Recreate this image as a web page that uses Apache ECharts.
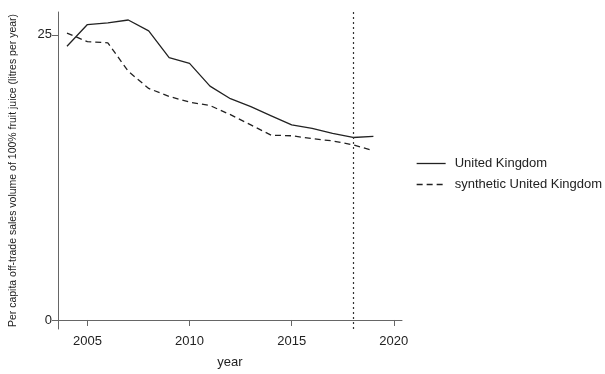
<!DOCTYPE html>
<html>
<head>
<meta charset="utf-8">
<script src="https://cdn.jsdelivr.net/npm/echarts@6/dist/echarts.min.js"></script>
<style>
  html, body { margin: 0; padding: 0; background: #fff; }
  #chart { width: 605px; height: 374px; }
</style>
</head>
<body>
<div id="chart"></div>
<script>
// Per capita off-trade sales volume of 100% fruit juice, UK vs synthetic control
const years = [2004, 2005, 2006, 2007, 2008, 2009, 2010, 2011, 2012, 2013, 2014, 2015, 2016, 2017, 2018, 2019];
const ukValues = [24.0, 25.9, 26.05, 26.3, 25.35, 23.0, 22.5, 20.5, 19.4, 18.7, 17.9, 17.1, 16.8, 16.35, 16.0, 16.1];
const syntheticValues = [25.15, 24.4, 24.3, 21.8, 20.3, 19.6, 19.1, 18.8, 18.0, 17.1, 16.2, 16.15, 15.9, 15.7, 15.35, 14.85];
const xTicks = [2005, 2010, 2015, 2020];
const yTicks = [0, 25];
const treatmentYear = 2018;
const seriesNames = ['United Kingdom', 'synthetic United Kingdom'];

const FONT = '"Liberation Sans", Arial, Helvetica, sans-serif';
const chart = echarts.init(document.getElementById('chart'), null, { renderer: 'canvas' });

const pairs = arr => years.map((y, i) => [y, arr[i]]);

chart.setOption({
  animation: false,
  backgroundColor: '#ffffff',
  grid: { left: 51, right: 203, top: 12, bottom: 45, containLabel: false },
  legend: {
    show: true,
    orient: 'vertical',
    left: 411,
    top: 152,
    itemWidth: 29,
    itemHeight: 14,
    itemGap: 8,
    itemStyle: { opacity: 0 },
    lineStyle: { width: 1.3 },
    textStyle: { fontFamily: FONT, fontSize: 13, color: '#222', padding: [0, 0, 0, 4] },
    data: seriesNames
  },
  xAxis: {
    type: 'value',
    min: 2003.56,
    max: 2020.4,
    name: 'year',
    nameLocation: 'middle',
    nameGap: 27,
    nameTextStyle: { fontFamily: FONT, fontSize: 13, color: '#222' },
    splitLine: { show: false },
    axisLine: { show: true, lineStyle: { color: '#666', width: 1 } },
    axisTick: { show: true, length: 6, lineStyle: { color: '#666' }, customValues: xTicks },
    axisLabel: {
      fontFamily: FONT, fontSize: 13, color: '#222', margin: 6,
      customValues: xTicks,
      formatter: v => String(v)
    }
  },
  yAxis: {
    type: 'value',
    min: -0.79,
    max: 27.0,
    name: 'Per capita off-trade sales volume of 100% fruit juice (litres per year)',
    nameLocation: 'middle',
    nameGap: 39,
    nameTextStyle: { fontFamily: FONT, fontSize: 10.5, color: '#222' },
    splitLine: { show: false },
    axisLine: { show: true, lineStyle: { color: '#666', width: 1 } },
    axisTick: { show: true, length: 6, lineStyle: { color: '#666' }, customValues: yTicks },
    axisLabel: {
      fontFamily: FONT, fontSize: 13, color: '#222', margin: 6,
      customValues: yTicks,
      formatter: v => String(v)
    }
  },
  series: [
    {
      name: seriesNames[0],
      type: 'line',
      data: pairs(ukValues),
      showSymbol: false,
      symbol: 'none',
      color: '#222',
      lineStyle: { color: '#222', width: 1.3, type: 'solid' },
      itemStyle: { color: '#222' },
      markLine: {
        silent: true,
        symbol: ['none', 'none'],
        label: { show: false },
        lineStyle: { color: '#333', width: 1.2, type: [2, 3] },
        data: [{ xAxis: treatmentYear }]
      }
    },
    {
      name: seriesNames[1],
      type: 'line',
      data: pairs(syntheticValues),
      showSymbol: false,
      symbol: 'none',
      color: '#222',
      lineStyle: { color: '#222', width: 1.3, type: [6, 4] },
      itemStyle: { color: '#222' }
    }
  ]
});
</script>
</body>
</html>
